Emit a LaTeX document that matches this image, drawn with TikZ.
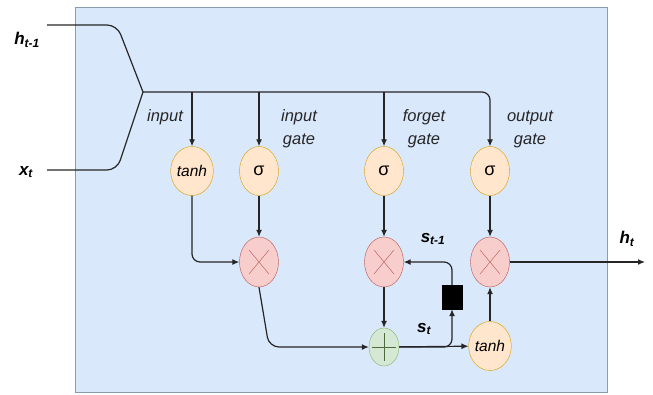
\documentclass[tikz,border=0pt]{standalone}
\usepackage{fontspec}
\setmainfont{Liberation Sans}
\usetikzlibrary{shapes.geometric,arrows.meta}

\definecolor{cellfill}{HTML}{DAE8FC}
\definecolor{cellline}{HTML}{8A9BB5}
\definecolor{actfill}{HTML}{FFE6CC}
\definecolor{actline}{HTML}{D79B00}
\definecolor{mulfill}{HTML}{F8CECC}
\definecolor{mulline}{HTML}{B85450}
\definecolor{addfill}{HTML}{D5E8D4}
\definecolor{addline}{HTML}{82B366}

\tikzset{% pixel units, y downwards
  act/.style ={ellipse, draw=actline, fill=actfill, minimum width=39pt, minimum height=49pt,
    inner sep=0pt, font=\fontsize{15.5}{17}\selectfont},
  mul/.style ={ellipse, draw=mulline, fill=mulfill, minimum width=39pt, minimum height=50pt, inner sep=0pt,
    path picture={\draw[mulline]
      ([shift={(-10,-12)}]path picture bounding box.center) -- ([shift={(10,12)}]path picture bounding box.center)
      ([shift={(-10,12)}]path picture bounding box.center) -- ([shift={(10,-12)}]path picture bounding box.center);}},
  add/.style ={ellipse, draw=addline, fill=addfill, minimum width=30pt, minimum height=38pt, inner sep=0pt,
    path picture={\draw[addline!60!black]
      ([shift={(-12,0)}]path picture bounding box.center) -- ([shift={(12,0)}]path picture bounding box.center)
      ([shift={(0,-14)}]path picture bounding box.center) -- ([shift={(0,14)}]path picture bounding box.center);}},
  delaybox/.style={rectangle, draw=black, fill=black, minimum width=20pt, minimum height=24pt, inner sep=0pt},
  lbl/.style ={font=\itshape\fontsize{16.5}{23}\selectfont, align=center, text=black!85},
  var/.style ={font=\bfseries\itshape\fontsize{17}{19}\selectfont},
  wire/.style={draw=black!85, line width=1.2pt},
  arr/.style ={wire, -{Latex[length=7pt,width=6pt]}},
}

\begin{document}
\begin{tikzpicture}[x=1pt, y=-1pt]
  \useasboundingbox (0,0) rectangle (653,394);
  \draw[cellline, fill=cellfill] (75,7) rectangle (607,392);

  \node[var] (hprev) at (27,40) {h\textsubscript{t-1}};
  \node[var] (xin) at (26,172) {x\textsubscript{t}};
  \coordinate (hstart) at (47,25);
  \coordinate (xstart) at (47,170);
  \coordinate (split) at (143,92);
  \coordinate (hend) at (645,262);

  \node[act] (tanhin) at (192,171) {\textit{tanh}};
  \node[act] (sigin) at (259,171) {\fontsize{18}{20}\selectfont σ};
  \node[act] (sigforget) at (384,171) {\fontsize{18}{20}\selectfont σ};
  \node[act] (sigout) at (490,171) {\fontsize{18}{20}\selectfont σ};
  \node[mul] (mulin) at (259,262) {};
  \node[mul] (mulforget) at (384,262) {};
  \node[mul] (mulout) at (490,262) {};
  \node[add] (sum) at (384,347) {};
  \node[act] (tanhout) at (490,346) {\textit{tanh}};
  \node[delaybox] (delay) at (452,297) {};

  \node[lbl] (linput) at (165,117) {input};
  \node[lbl] (linputgate) at (299,129) {input\\gate};
  \node[lbl] (lforget) at (424,129) {forget\\gate};
  \node[lbl] (loutput) at (530,129) {output\\gate};
  \node[var] (lsprev) at (433,239) {s\textsubscript{t-1}};
  \node[var] (ls) at (424,329) {s\textsubscript{t}};
  \node[var] (lh) at (627,239) {h\textsubscript{t}};

  \draw[wire, rounded corners=10] (hstart) -- (117,25) -- (split);
  \draw[wire, rounded corners=10] (xstart) -- (117,170) -- (split);
  \draw[arr, rounded corners=8] (split) -- (sigout.north |- split) -- (sigout.north);
  \draw[arr] (tanhin.north |- split) -- (tanhin.north);
  \draw[arr] (sigin.north |- split) -- (sigin.north);
  \draw[arr] (sigforget.north |- split) -- (sigforget.north);

  \draw[arr, rounded corners=8] (tanhin.south) |- (mulin.west);
  \draw[arr] (sigin) -- (mulin);
  \draw[arr, rounded corners=10] (mulin.south) -- (269,347) -- (sum.west);
  \draw[arr] (sigforget) -- (mulforget);
  \draw[arr] (mulforget) -- (sum);
  \draw[arr] (sum) -- (tanhout);
  \draw[arr, rounded corners=8] (sum.east) -| (delay.south);
  \draw[arr, rounded corners=8] (delay.north) |- (mulforget.east);
  \draw[arr] (sigout) -- (mulout);
  \draw[arr] (tanhout) -- (mulout);
  \draw[arr] (mulout) -- (hend);
\end{tikzpicture}
\end{document}
